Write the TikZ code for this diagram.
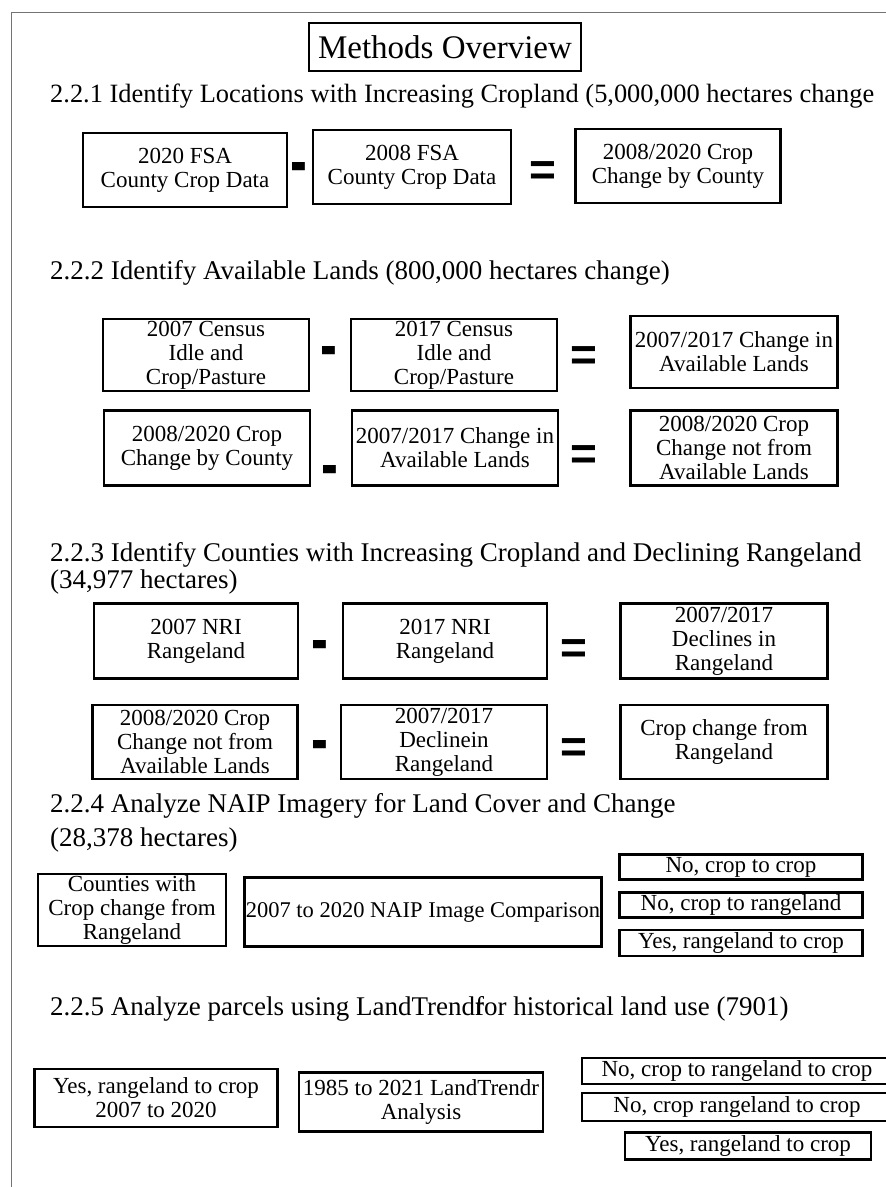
\documentclass[tikz,border=0pt]{standalone}
\usepackage{fontspec}
\setmainfont{Liberation Serif}
\newfontfamily\opfont{Liberation Sans}
\begin{document}
\begin{tikzpicture}[x=1pt,y=-1pt,
  bx/.style={draw, line width=2.8pt, inner sep=1pt, align=center,
             font=\fontsize{23}{24}\selectfont},
  hd/.style={anchor=base west, inner sep=0pt, font=\fontsize{27}{30}\selectfont},
  op/.style={inner sep=0pt, yshift=-10pt, font=\fontsize{46}{46}\selectfont\bfseries\opfont},
  frame/.style={draw=black!55, line width=1pt}
]
\useasboundingbox (0,0) rectangle (886,1187);
% frame lines
\coordinate (f0) at (11,12);
\coordinate (f1) at (890,12);
\coordinate (f2) at (11,1190);
\draw[frame] (f1) -- (f0) -- (f2);

% title
\node[bx, line width=2.4pt, minimum width=272pt, minimum height=48pt,
      font=\fontsize{33}{34}\selectfont] (title) at (445,47) {Methods Overview};

% 2.2.1
\node[hd, font=\fontsize{26.4}{30}\selectfont] (h1) at (50,102) {2.2.1 Identify Locations with Increasing Cropland (5,000,000 hectares change};
\node[bx, minimum width=204pt, minimum height=74pt] (a1) at (185,170) {2020 FSA\\County Crop Data};
\node[op] (m1) at (299,163) {\scalebox{1.1}[1.5]{-}};
\node[bx, minimum width=198pt, minimum height=74pt] (b1) at (412,167) {2008 FSA\\County Crop Data};
\node[op] (e1) at (543,164) {=};
\node[bx, minimum width=205pt, minimum height=74pt] (c1) at (678,166) {2008/2020 Crop\\Change by County};

% 2.2.2
\node[hd] (h2) at (50,279) {2.2.2 Identify Available Lands (800,000 hectares change)};
\node[bx, minimum width=206pt, minimum height=72pt] (a2) at (206,355) {2007 Census\\Idle and\\Crop/Pasture};
\node[op] (m2) at (329,347) {\scalebox{1.1}[1.5]{-}};
\node[bx, minimum width=206pt, minimum height=72pt] (b2) at (454,355) {2017 Census\\Idle and\\Crop/Pasture};
\node[op] (e2) at (584,349) {=};
\node[bx, minimum width=207pt, minimum height=72pt] (c2) at (734,352) {2007/2017 Change in\\Available Lands};

\node[bx, minimum width=206pt, minimum height=75pt] (a3) at (207,448) {2008/2020 Crop\\Change by County};
\node[op] (m3) at (330,466) {\scalebox{1.1}[1.5]{-}};
\node[bx, minimum width=206pt, minimum height=75pt] (b3) at (455,448) {2007/2017 Change in\\Available Lands};
\node[op] (e3) at (584,448) {=};
\node[bx, minimum width=207pt, minimum height=75pt] (c3) at (734,448) {2008/2020 Crop\\Change not from\\Available Lands};

% 2.2.3
\node[hd] (h3) at (50,561) {2.2.3 Identify Counties with Increasing Cropland and Declining Rangeland};
\node[hd] (h3b) at (50,588) {(34,977 hectares)};
\node[bx, minimum width=204pt, minimum height=75pt] (a4) at (196,641) {2007 NRI\\Rangeland};
\node[op] (m4) at (320,641) {\scalebox{1.1}[1.5]{-}};
\node[bx, minimum width=204pt, minimum height=75pt] (b4) at (445,641) {2017 NRI\\Rangeland};
\node[op] (e4) at (574,642) {=};
\node[bx, minimum width=207pt, minimum height=75pt] (c4) at (724,641) {2007/2017\\Declines in\\Rangeland};

\node[bx, minimum width=205pt, minimum height=74pt] (a5) at (195,742) {2008/2020 Crop\\Change not from\\Available Lands};
\node[op] (m5) at (320,741) {\scalebox{1.1}[1.5]{-}};
\node[bx, minimum width=206pt, minimum height=74pt] (b5) at (444,742) {2007/2017\\Declinein\\Rangeland};
\node[op] (e5) at (574,741) {=};
\node[bx, minimum width=207pt, minimum height=74pt] (c5) at (724,742) {Crop change from\\Rangeland};

% 2.2.4
\node[hd] (h4) at (50,812) {2.2.4 Analyze NAIP Imagery for Land Cover and Change};
\node[hd] (h4b) at (50,846) {(28,378 hectares)};
\node[bx, minimum width=188pt, minimum height=72pt] (a6) at (132,910) {Counties with\\Crop change from\\Rangeland};
\node[bx, minimum width=357pt, minimum height=69pt, font=\fontsize{22.5}{24}\selectfont] (b6) at (423,912) {2007 to 2020 NAIP Image Comparison};
\node[bx, minimum width=243pt, minimum height=25pt] (r1) at (741,867) {No, crop to crop};
\node[bx, minimum width=243pt, minimum height=25pt] (r2) at (741,905) {No, crop to rangeland};
\node[bx, minimum width=243pt, minimum height=26pt] (r3) at (741,943) {Yes, rangeland to crop};

% 2.2.5
\node[hd] (h5) at (50,1015) {2.2.5 Analyze parcels using LandTrendr\kern-0.33em for historical land use (7901)};
\node[bx, minimum width=243pt, minimum height=58pt] (a7) at (156,1098) {Yes, rangeland to crop\\2007 to 2020};
\node[bx, minimum width=244pt, minimum height=59pt] (b7) at (421,1102) {1985 to 2021 LandTrendr\\Analysis};
\node[bx, minimum width=310pt, minimum height=26pt] (s1) at (737,1071) {No, crop to rangeland to crop};
\node[bx, minimum width=310pt, minimum height=28pt] (s2) at (737,1107) {No, crop rangeland to crop};
\node[bx, minimum width=246pt, minimum height=27pt] (s3) at (748,1146) {Yes, rangeland to crop};
\end{tikzpicture}
\end{document}
